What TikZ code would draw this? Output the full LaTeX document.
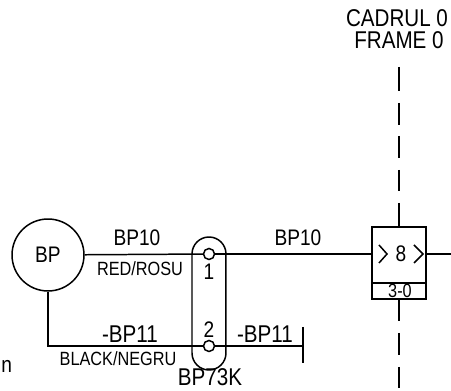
\documentclass[tikz,border=0pt]{standalone}
\usepackage{fontspec}
\setmainfont[FakeStretch=0.85]{Liberation Sans}
\usepackage{tikz}
\tikzset{
wire/.style={draw=black,line width=0.85pt},
frameline/.style={draw=black,line width=0.85pt},
big/.style={inner sep=0pt,font=\fontsize{12.8}{12.8}\selectfont},
title/.style={inner sep=0pt,font=\fontsize{13.8}{13.8}\selectfont},
small/.style={inner sep=0pt,font=\fontsize{10.9}{10.9}\selectfont},
pin/.style={shape=circle,draw=black,fill=white,line width=0.85pt,inner sep=0pt,minimum size=0.22cm},
}
\begin{document}
\begin{tikzpicture}[x=0.02cm,y=-0.02cm]
\useasboundingbox (0,0) rectangle (451,391);
\node[shape=circle,draw=black,line width=0.85pt,inner sep=0pt,minimum size=1.44cm,big] (BP) at (48,255) {BP};
\node[shape=rectangle,rounded corners=0.34cm,draw=black,line width=0.85pt,minimum width=0.68cm,minimum height=2.66cm,inner sep=0pt] (BP73K) at (209,303.5) {};
\node[shape=rectangle,draw=black,line width=0.85pt,minimum width=1.08cm,minimum height=1.44cm,inner sep=0pt] (FR) at (399,263) {};
\coordinate (SL) at (372,283);
\coordinate (SR) at (426,283);
\coordinate (IN) at (372,254);
\coordinate (OUT) at (426,254);
\coordinate (RE) at (451,254);
\coordinate (LB) at (48,346);
\coordinate (ET) at (303,327);
\coordinate (EB) at (303,363);
\coordinate (EM) at (303,346);
\coordinate (A1) at (379,245);
\coordinate (A2) at (387,254);
\coordinate (A3) at (379,263);
\coordinate (C1) at (414,245);
\coordinate (C2) at (423,254);
\coordinate (C3) at (414,263);
\node[pin] (P1) at (209,254) {};
\node[pin] (P2) at (209,346) {};
\path [wire] (BP) -- (P1);
\path [wire] (P1) -- (IN);
\path [wire] (OUT) -- (RE);
\path [wire] (BP.south) -- (LB) -- (P2);
\path [wire] (P2) -- (EM);
\path [wire] (ET) -- (EB);
\path [wire] (SL) -- (SR);
\path [wire] (A1) -- (A2) -- (A3);
\path [wire] (C1) -- (C2) -- (C3);
\foreach \a/\b in {67/91,103/125,136/158,170/191,203/227,299/321,333/355,367/388}
  \path [frameline] (399,\a) -- (399,\b);
\node[big] (T1) at (137,238) {BP10};
\node[big] (T2) at (298,238) {BP10};
\node[title] (T3) at (130,334) {-BP11};
\node[title] (T4) at (265,334) {-BP11};
\node[big] (T5) at (209,272) {1};
\node[big] (T6) at (209,330) {2};
\node[title] (T7) at (210,377) {BP73K};
\node[big] (T8) at (401,254) {8};
\node[small] (T9) at (140,269) {RED/ROSU};
\node[small] (T10) at (118,359) {BLACK/NEGRU};
\node[small] (T11) at (400,291) {3-0};
\node[title] (T12) at (397,18) {CADRUL 0};
\node[title] (T13) at (399,40) {FRAME 0};
\node[big,anchor=west] (T14) at (1,366) {n};
\end{tikzpicture}
\end{document}
